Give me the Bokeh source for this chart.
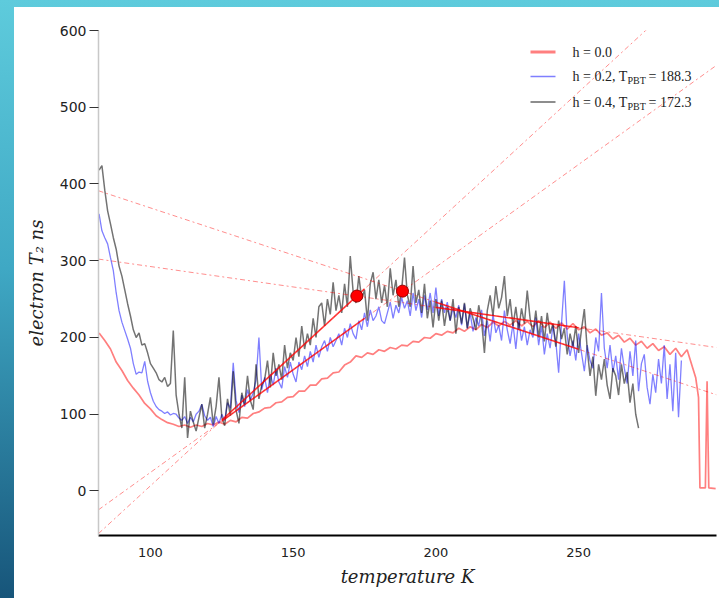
import numpy as np
from bokeh.plotting import figure
from bokeh.models import Range1d, FixedTicker, BoxAnnotation, Label
from bokeh.embed import file_html
from bokeh.resources import INLINE

# ---------------- data ----------------
x_ticks = [100, 150, 200, 250]
y_ticks = [0, 100, 200, 300, 400, 500, 600]

# h = 0.0 (red)
red_T = list(range(82, 289, 2)) + [289, 290, 291, 292, 292.5, 294.4, 295, 295.6, 298]
red_T2 = [206, 196, 185, 168, 157, 144, 134, 125, 114, 107,
          98, 93, 89, 87, 84, 86, 83, 86, 84, 88,
          86, 90, 87, 92, 90, 96, 95, 101, 103, 108,
          109, 115, 116, 122, 123, 130, 130, 138, 138, 146,
          147, 154, 155, 164, 168, 176, 174, 180, 178, 184,
          182, 187, 185, 190, 189, 195, 194, 200, 199, 205,
          203, 208, 206, 212, 208, 214, 210, 217, 213, 220,
          215, 221, 216, 222, 215, 221, 214, 222, 213, 220,
          212, 219, 211, 218, 210, 214, 206, 211, 203, 206,
          198, 203, 194, 199, 190, 195, 186, 192, 183, 188,
          178, 186, 175, 184,
          172, 160, 148, 122, 4, 4, 143, 4, 3]

# h = 0.2 (blue)
blue_T = list(range(82, 287))
blue_T2 = [361, 339, 330, 322, 304, 287, 258, 235, 220, 209,
           198, 186, 166, 152, 155, 154, 169, 143, 128, 117,
           110, 106, 104, 101, 103, 99, 101, 100, 95, 92,
           97, 88, 96, 90, 100, 104, 113, 98, 92, 96,
           84, 97, 88, 100, 92, 115, 108, 167, 118, 102,
           125, 110, 132, 118, 128, 145, 200, 132, 148, 128,
           152, 138, 160, 142, 134, 162, 148, 168, 152, 142,
           168, 158, 176, 162, 182, 168, 190, 174, 188, 196,
           182, 200, 188, 196, 205, 190, 212, 200, 218, 205,
           198, 222, 210, 232, 214, 236, 222, 228, 240, 222,
           218, 232, 246, 225, 242, 232, 252, 238, 248, 228,
           258, 235, 250, 226, 255, 236, 258, 232, 265, 228,
           250, 232, 246, 222, 238, 226, 242, 216, 244, 212,
           232, 208, 226, 215, 236, 202, 222, 195, 230, 206,
           216, 196, 235, 210, 192, 218, 185, 224, 196, 214,
           190, 210, 200, 226, 190, 215, 178, 205, 186, 215,
           195, 154, 218, 274, 202, 176, 196, 170, 205, 180,
           156, 190, 170, 160, 200, 182, 258, 186, 160, 190,
           155, 176, 145, 186, 160, 140, 182, 150, 196, 130,
           166, 178, 135, 113, 152, 128, 172, 140, 190, 120,
           165, 104, 180, 96, 170]

# h = 0.4 (gray)
gray_T = list(range(82, 272))
gray_T2 = [418, 424, 392, 365, 348, 330, 315, 293, 280, 262,
           244, 228, 210, 200, 206, 190, 192, 180, 166, 160,
           154, 145, 142, 148, 136, 140, 209, 125, 100, 82,
           148, 69, 104, 90, 78, 96, 113, 82, 100, 122,
           87, 110, 148, 96, 85, 120, 98, 156, 105, 88,
           128, 112, 150, 118, 106, 165, 120, 138, 145, 170,
           135, 180, 150, 165, 145, 190, 160, 180, 170, 200,
           175, 215, 185, 205, 190, 225, 200, 240, 245, 215,
           250, 230, 272, 235, 255, 232, 270, 240, 306, 260,
           245, 280, 250, 262, 222, 270, 285, 250, 275, 245,
           268, 240, 290, 255, 275, 240, 262, 304, 255, 240,
           293, 245, 262, 232, 270, 225, 248, 213, 250, 222,
           248, 215, 240, 222, 250, 205, 240, 218, 245, 212,
           238, 225, 210, 242, 222, 180, 235, 255, 228, 267,
           238, 252, 280, 228, 250, 215, 240, 210, 238, 218,
           261, 225, 205, 235, 200, 228, 195, 232, 205, 218,
           188, 222, 198, 212, 178, 205, 188, 215, 180, 210,
           237, 185, 150, 175, 124, 165, 145, 172, 138, 120,
           160, 150, 125, 165, 140, 155, 115, 140, 100, 82]

# piecewise-linear fits: [h=0.2 (blue), h=0.4 (gray)]
T_PBT = [188.3, 172.3]
T2_PBT = [260.4, 254.0]
slope_low = [2.675, 3.42]
slope_high = [-1.228, -0.532]
fit_low = [125, 175]
fit_high = [200, 250]

legend_labels = ["h = 0.0", "h = 0.2, T", "h = 0.4, T"]
legend_values = ["", "= 188.3", "= 172.3"]

assert len(red_T) == len(red_T2)
assert len(blue_T) == len(blue_T2)
assert len(gray_T) == len(gray_T2)

# ---------------- figure ----------------
W, H = 719, 598
F_LEFT, F_TOP, F_BOTTOM, F_RIGHT = 98, 30, 535, 716
XMIN, XMAX = 81.8, 298.3
p = figure(width=W, height=H, output_backend="svg", toolbar_location=None,
           x_range=Range1d(XMIN, XMAX), y_range=Range1d(-58, 600),
           min_border_left=F_LEFT, min_border_right=W - F_RIGHT,
           min_border_top=F_TOP, min_border_bottom=H - F_BOTTOM)
p.outline_line_color = None
p.grid.visible = False
p.background_fill_color = "white"
p.border_fill_color = None
# slide background: cyan top band and gradient strip on the left
p.styles = {
    "background": "linear-gradient(#ffffff, #ffffff) 14px 7px / calc(100% - 14px) calc(100% - 7px) no-repeat, "
                  "linear-gradient(to bottom, #5ecbdc, #3fa8c4 45%, #17557a)"
}

# axes
p.xaxis.ticker = FixedTicker(ticks=x_ticks)
p.yaxis.ticker = FixedTicker(ticks=y_ticks)
p.xaxis.axis_label = "temperature K"
p.yaxis.axis_label = "electron T\u2082 ns"
for ax in (p.xaxis, p.yaxis):
    ax.axis_label_text_font = "DejaVu Serif"
    ax.axis_label_text_font_style = "italic"
    ax.axis_label_text_font_size = "18px"
    ax.axis_label_text_color = "#222222"
    ax.major_label_text_font = "DejaVu Sans"
    ax.major_label_text_color = "#222222"
    ax.minor_tick_line_color = None
    ax.major_tick_in = 0
p.xaxis.axis_line_color = "black"
p.xaxis.axis_line_width = 2
p.xaxis.major_tick_line_color = None
p.xaxis.major_tick_out = 0
p.xaxis.major_label_standoff = 12
p.xaxis.major_label_text_font_size = "13px"
p.xaxis.axis_label_standoff = 6
p.yaxis.axis_line_color = "#c8c8c8"
p.yaxis.axis_line_width = 1.5
p.yaxis.major_tick_line_color = "#333333"
p.yaxis.major_tick_out = 9
p.yaxis.major_label_standoff = 3
p.yaxis.major_label_text_font_size = "14px"
p.yaxis.axis_label_standoff = 10

# data curves
p.line(red_T, red_T2, line_color="#ff0000", line_alpha=0.5, line_width=1.7)
p.line(blue_T, blue_T2, line_color="#0000ff", line_alpha=0.5, line_width=1.3)
p.line(gray_T, gray_T2, line_color="#000000", line_alpha=0.55, line_width=1.5)

# fit lines (extrapolated dashed + fitted solid segments)
def fit_y(i, slope, xs):
    return [T2_PBT[i] + slope * (x - T_PBT[i]) for x in xs]

dash_xs, dash_ys, solid_xs, solid_ys = [], [], [], []
for i in range(2):
    for s, rng in ((slope_low[i], fit_low), (slope_high[i], fit_high)):
        dash_xs.append([XMIN, XMAX])
        dash_ys.append(fit_y(i, s, [XMIN, XMAX]))
        solid_xs.append(list(rng))
        solid_ys.append(fit_y(i, s, rng))
p.multi_line(dash_xs, dash_ys, line_color="#ff0000", line_alpha=0.45,
             line_width=1, line_dash="5 3 2 3")
p.multi_line(solid_xs, solid_ys, line_color="#ff0000", line_alpha=0.75,
             line_width=1.6)
p.scatter(T_PBT, T2_PBT, size=12, fill_color="#ff0000", line_color="#990000",
          line_width=1)

# legend (manual, to allow the subscript); screen units are frame-relative, y up
def sx(cx):
    return cx - F_LEFT

def sy(cy):
    return F_BOTTOM - cy

rows = [51.5, 76, 101.5]
leg_colors = ["#ff0000", "#0000ff", "#000000"]
leg_alpha = [0.5, 0.5, 0.6]
leg_thick = [3, 1.5, 1.5]
for k in range(3):
    r = rows[k]
    p.add_layout(BoxAnnotation(left=sx(530), right=sx(555),
                               top=sy(r - leg_thick[k] / 2), bottom=sy(r + leg_thick[k] / 2),
                               left_units="screen", right_units="screen",
                               top_units="screen", bottom_units="screen",
                               fill_color=leg_colors[k], fill_alpha=leg_alpha[k],
                               line_color=None, level="overlay"))
    p.add_layout(Label(x=sx(572), y=sy(r), x_units="screen", y_units="screen",
                       text=legend_labels[k], text_font="Liberation Serif",
                       text_font_size="14px", text_baseline="middle",
                       text_color="#222222"))
    if legend_values[k]:
        p.add_layout(Label(x=sx(627), y=sy(r + 4), x_units="screen", y_units="screen",
                           text="PBT", text_font="Liberation Serif",
                           text_font_size="10px", text_baseline="middle",
                           text_color="#222222"))
        p.add_layout(Label(x=sx(648), y=sy(r), x_units="screen", y_units="screen",
                           text=legend_values[k], text_font="Liberation Serif",
                           text_font_size="14px", text_baseline="middle",
                           text_color="#222222"))

open("out.html", "w").write(file_html(p, INLINE))
